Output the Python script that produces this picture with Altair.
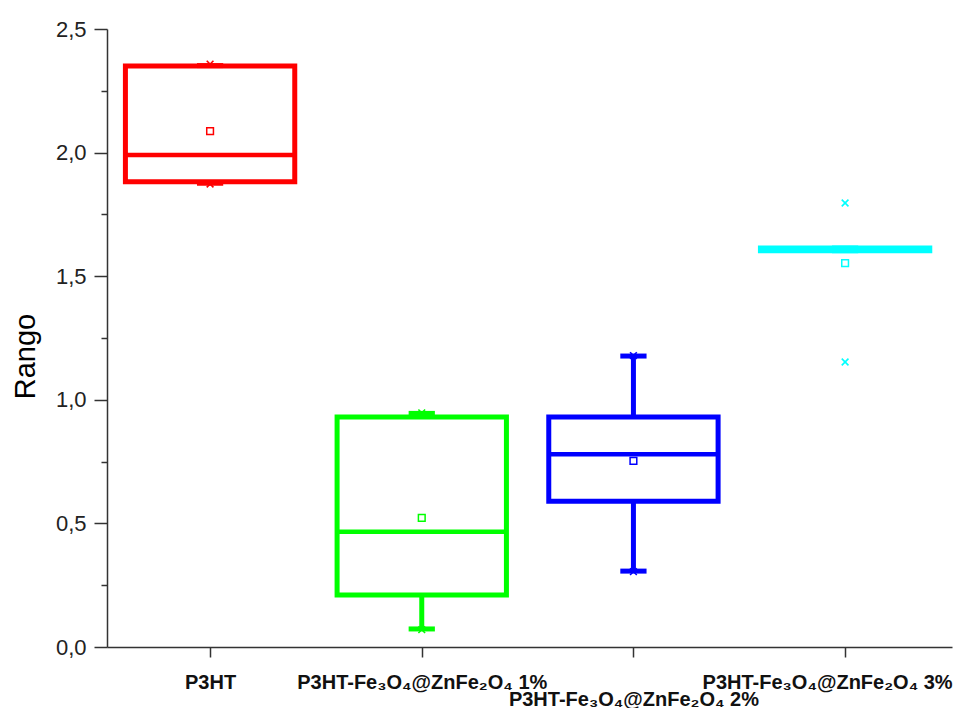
import json
import altair as alt
import pandas as pd

# ---- data ----
groups = ["P3HT", "P3HT-Fe₃O₄@ZnFe₂O₄ 1%", "P3HT-Fe₃O₄@ZnFe₂O₄ 2%", "P3HT-Fe₃O₄@ZnFe₂O₄ 3%"]
positions = [1, 2, 3, 4]
q1 = [1.882, 0.21, 0.59, 1.603]
q3 = [2.35, 0.93, 0.93, 1.614]
medians = [1.99, 0.466, 0.78, 1.61]
means = [2.087, 0.522, 0.753, 1.553]
whisker_lo = [1.876, 0.073, 0.307, 1.603]
whisker_hi = [2.352, 0.945, 1.177, 1.614]
min_marks = [1.873, 0.07, 0.305, 1.153]
max_marks = [2.358, 0.947, 1.179, 1.796]
colors = ["#FF0000", "#00FF00", "#0000FF", "#00FFFF"]
y_ticks = [0, 0.25, 0.5, 0.75, 1.0, 1.25, 1.5, 1.75, 2.0, 2.25, 2.5]

df = pd.DataFrame({
    "pos": positions, "group": groups, "q1": q1, "q3": q3, "med": medians,
    "mean": means, "wlo": whisker_lo, "whi": whisker_hi,
    "mn": min_marks, "mx": max_marks,
})

label_font = "'Liberation Sans Narrow', 'Arial Narrow', 'Liberation Sans', sans-serif"
label_arr = json.dumps(groups, ensure_ascii=False)

x_axis = alt.Axis(
    values=positions,
    labelExpr=f"{label_arr}[datum.value - 1]",
    title=None, grid=False,
    domainColor="#333333", domainWidth=1.5,
    tickColor="#333333", tickWidth=1.5, tickSize=10,
    labelFont=label_font, labelFontSize=20, labelFontWeight="bold",
    labelColor="#111111", labelLimit=0,
    labelPadding={"condition": {"test": "datum.value == 3", "value": 32}, "value": 15},
    labelOffset={"condition": {"test": "datum.value == 4", "value": -18}, "value": 0},
    labelOverlap=False, labelBound=False, labelFlush=False,
)
y_axis = alt.Axis(
    values=y_ticks,
    labelExpr="datum.value % 0.5 == 0 ? replace(format(datum.value, '.1f'), '.', ',') : ''",
    title="Rango", grid=False,
    domainColor="#333333", domainWidth=1.5,
    tickColor="#333333", tickWidth=1.5,
    tickSize={"condition": {"test": "datum.value % 0.5 != 0", "value": 6}, "value": 13},
    labelFont="Liberation Sans", labelFontSize=22, labelColor="#222222", labelPadding=8,
    titleFont="Liberation Sans", titleFontSize=29, titleFontWeight="normal",
    titleColor="#000000", titleAngle=-90, titleX=-82, titleY=327,
    titleAlign="center", titleBaseline="middle",
    labelOverlap=False,
)
x_scale = alt.Scale(domain=[0.513, 4.505], nice=False, zero=False)
y_scale = alt.Scale(domain=[0, 2.5], nice=False, zero=False)
color = alt.Color("group:N", scale=alt.Scale(domain=groups, range=colors), legend=None)


def X(field):
    return alt.X(field, type="quantitative", scale=x_scale, axis=x_axis)


def Y(field):
    return alt.Y(field, type="quantitative", scale=y_scale, axis=y_axis)


base = alt.Chart(df).transform_calculate(
    left="datum.pos - 0.4", right="datum.pos + 0.4",
    cl="datum.pos - 0.062", cr="datum.pos + 0.062",
)

whisk_up = base.mark_rule(strokeWidth=5).encode(x=X("pos"), y=Y("q3"), y2="whi", color=color)
whisk_dn = base.mark_rule(strokeWidth=5).encode(x=X("pos"), y=Y("wlo"), y2="q1", color=color)
cap_up = base.mark_rule(strokeWidth=5).encode(x=X("cl"), x2="cr", y=Y("whi"), color=color)
cap_dn = base.mark_rule(strokeWidth=5).encode(x=X("cl"), x2="cr", y=Y("wlo"), color=color)
box = base.mark_rect(filled=False, strokeWidth=5).encode(
    x=X("left"), x2="right", y=Y("q1"), y2="q3", stroke=color)
median = base.mark_rule(strokeWidth=4.5).encode(x=X("left"), x2="right", y=Y("med"), color=color)
mean = base.mark_point(shape="square", size=45, strokeWidth=1.5, filled=False, opacity=1).encode(
    x=X("pos"), y=Y("mean"), color=color)
extremes = base.transform_fold(["mn", "mx"], as_=["kind", "val"]).mark_point(
    shape="M-1,-1L1,1M-1,1L1,-1", size=45, strokeWidth=1.6, filled=False, opacity=1
).encode(x=X("pos"), y=Y("val"), color=color)

chart = alt.layer(
    whisk_up, whisk_dn, cap_up, cap_dn, box, median, mean, extremes
).properties(
    width=845, height=618,
    autosize=alt.AutoSizeParams(type="none"),
    padding={"left": 99, "top": 21, "right": 2, "bottom": 61},
    background="white",
).configure_view(stroke=None)

chart.save("out.html", embed_options={"renderer": "svg", "actions": False})
